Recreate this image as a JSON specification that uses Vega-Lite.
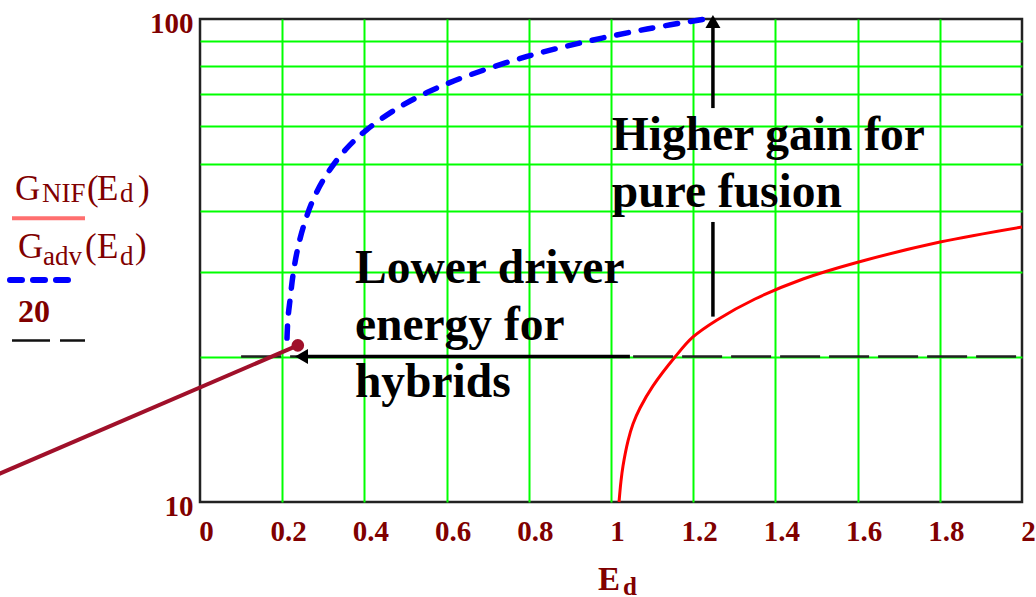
{
  "$schema": "https://vega.github.io/schema/vega-lite/v6.json",
  "width": 822,
  "height": 483,
  "autosize": {"type": "none"},
  "padding": {"left": 200, "top": 19, "right": 14, "bottom": 95},
  "background": "white",
  "config": {
    "view": {"stroke": "#222222", "strokeWidth": 2.5},
    "axis": {"domain": false, "ticks": false}
  },
  "datasets": {
    "nif": [
      {"x": 1.0195, "y": 10}, {"x": 1.0243, "y": 11.05}, {"x": 1.0292, "y": 11.87},
      {"x": 1.0414, "y": 13.38}, {"x": 1.0535, "y": 14.5}, {"x": 1.0706, "y": 15.65},
      {"x": 1.1022, "y": 17.39}, {"x": 1.1557, "y": 19.96}, {"x": 1.1995, "y": 21.96},
      {"x": 1.2579, "y": 23.82}, {"x": 1.3504, "y": 26.32}, {"x": 1.4672, "y": 28.95},
      {"x": 1.5937, "y": 31.25}, {"x": 1.8005, "y": 34.53}, {"x": 2, "y": 37.1}
    ],
    "adv": [
      {"x": 0.2117, "y": 21.85}, {"x": 0.2141, "y": 24.04}, {"x": 0.219, "y": 26.19},
      {"x": 0.2263, "y": 29.51}, {"x": 0.236, "y": 32.93}, {"x": 0.2506, "y": 36.93},
      {"x": 0.2749, "y": 42.19}, {"x": 0.309, "y": 47.77}, {"x": 0.3577, "y": 54.07},
      {"x": 0.4063, "y": 59.04}, {"x": 0.4793, "y": 65.27}, {"x": 0.5523, "y": 70.43},
      {"x": 0.6496, "y": 76.21}, {"x": 0.7956, "y": 83.66}, {"x": 0.9416, "y": 89.87},
      {"x": 1.0876, "y": 95.35}, {"x": 1.2287, "y": 100}
    ],
    "ref20": [{"x": 0.1, "x2": 2, "y": 20}],
    "arrowH": [{"x": 0.262, "x2": 1.046, "y": 20}],
    "arrowV": [{"x": 1.248, "y": 65.4, "y2": 96.5}, {"x": 1.248, "y": 24.2, "y2": 38.0}],
    "headUp": [{"x": 1.248, "y": 98.8}],
    "headLeft": [{"x": 0.247, "y": 20}],
    "pointer": [{"x": -0.535, "y": 11.0, "x2": 0.238, "y2": 21.1}],
    "dot": [{"x": 0.238, "y": 21.1}],
    "notes": [
      {"x": 1.002, "y": 53.6, "t": "Higher gain for"},
      {"x": 1.002, "y": 40.8, "t": "pure fusion"},
      {"x": 0.377, "y": 28.4, "t": "Lower driver"},
      {"x": 0.377, "y": 21.6, "t": "energy for"},
      {"x": 0.377, "y": 16.5, "t": "hybrids"}
    ],
    "legMain": [
      {"x": -0.4501, "y": 42.2, "t": "G"},
      {"x": -0.2749, "y": 42.2, "t": "("},
      {"x": -0.2506, "y": 42.2, "t": "E"},
      {"x": -0.1509, "y": 42.2, "t": ")"},
      {"x": -0.4428, "y": 32.0, "t": "G"},
      {"x": -0.2798, "y": 32.0, "t": "("},
      {"x": -0.2506, "y": 32.0, "t": "E"},
      {"x": -0.1582, "y": 32.0, "t": ")"}
    ],
    "legSub": [
      {"x": -0.3844, "y": 41.8, "t": "NIF"},
      {"x": -0.1946, "y": 41.8, "t": "d"},
      {"x": -0.382, "y": 30.95, "t": "adv"},
      {"x": -0.1946, "y": 30.95, "t": "d"}
    ],
    "legNum": [{"x": -0.4428, "y": 23.6, "t": "20"}],
    "legRed": [{"x": -0.4574, "x2": -0.2798, "y": 38.7}],
    "legBlue": [{"x": -0.4623, "x2": -0.2993, "y": 28.8}],
    "legBlack": [{"x": -0.4574, "x2": -0.2798, "y": 21.6}],
    "xTitleMain": [{"x": 0.9684, "y": 6.57, "t": "E"}],
    "xTitleSub": [{"x": 1.0292, "y": 6.42, "t": "d"}]
  },
  "encoding": {
    "x": {
      "field": "x",
      "type": "quantitative",
      "scale": {"type": "linear", "domain": [0, 2], "nice": false, "zero": false},
      "axis": {
        "values": [0, 0.2, 0.4, 0.6, 0.8, 1, 1.2, 1.4, 1.6, 1.8, 2],
        "format": "~g",
        "title": null,
        "grid": true,
        "gridColor": "#00FF00",
        "gridWidth": 2,
        "gridOpacity": {"condition": {"test": "datum.value === 0 || datum.value === 2", "value": 0}, "value": 1},
        "labelFont": "Liberation Serif",
        "labelFontWeight": "bold",
        "labelFontSize": 29,
        "labelColor": "#800000",
        "labelPadding": 15,
        "labelOffset": 6,
        "labelOverlap": false,
        "labelFlush": false,
        "labelBound": false
      }
    },
    "y": {
      "field": "y",
      "type": "quantitative",
      "scale": {"type": "log", "domain": [10, 100], "nice": false},
      "axis": {
        "values": [10, 20, 30, 40, 50, 60, 70, 80, 90, 100],
        "format": "~g",
        "title": null,
        "grid": true,
        "gridColor": "#00FF00",
        "gridWidth": 2,
        "gridOpacity": {"condition": {"test": "datum.value === 10 || datum.value === 100", "value": 0}, "value": 1},
        "labelExpr": "datum.value === 10 || datum.value === 100 ? datum.label : ''",
        "labelFont": "Liberation Serif",
        "labelFontWeight": "bold",
        "labelFontSize": 29,
        "labelColor": "#800000",
        "labelPadding": 7,
        "labelOffset": 4,
        "labelOverlap": false,
        "labelFlush": false,
        "labelBound": false
      }
    }
  },
  "layer": [
    {
      "data": {"name": "ref20"},
      "mark": {"type": "rule", "color": "#222222", "strokeWidth": 2.5, "strokeDash": [40, 9]},
      "encoding": {"x2": {"field": "x2"}}
    },
    {
      "data": {"name": "nif"},
      "mark": {"type": "line", "color": "#FF0000", "strokeWidth": 3, "interpolate": "catmull-rom"}
    },
    {
      "data": {"name": "adv"},
      "mark": {"type": "line", "color": "#0000FF", "strokeWidth": 5.5, "strokeDash": [12, 13], "strokeCap": "round", "interpolate": "catmull-rom"}
    },
    {
      "data": {"name": "arrowH"},
      "mark": {"type": "rule", "color": "black", "strokeWidth": 3.5},
      "encoding": {"x2": {"field": "x2"}}
    },
    {
      "data": {"name": "arrowV"},
      "mark": {"type": "rule", "color": "black", "strokeWidth": 3.5},
      "encoding": {"y2": {"field": "y2"}}
    },
    {
      "data": {"name": "headUp"},
      "mark": {"type": "point", "shape": "triangle-up", "filled": true, "color": "black", "opacity": 1, "size": 225, "strokeWidth": 0}
    },
    {
      "data": {"name": "headLeft"},
      "mark": {"type": "point", "shape": "triangle-left", "filled": true, "color": "black", "opacity": 1, "size": 225, "strokeWidth": 0}
    },
    {
      "data": {"name": "pointer"},
      "mark": {"type": "rule", "color": "#A0102A", "strokeWidth": 4},
      "encoding": {"x2": {"field": "x2"}, "y2": {"field": "y2"}}
    },
    {
      "data": {"name": "dot"},
      "mark": {"type": "point", "shape": "circle", "filled": true, "color": "#A0102A", "opacity": 1, "size": 160, "strokeWidth": 0}
    },
    {
      "data": {"name": "notes"},
      "mark": {"type": "text", "align": "left", "baseline": "alphabetic", "font": "Liberation Serif", "fontSize": 47.5, "fontWeight": "bold", "color": "black"},
      "encoding": {"text": {"field": "t"}}
    },
    {
      "data": {"name": "legMain"},
      "mark": {"type": "text", "align": "left", "baseline": "alphabetic", "font": "Liberation Serif", "fontSize": 35, "color": "#800000"},
      "encoding": {"text": {"field": "t"}}
    },
    {
      "data": {"name": "legSub"},
      "mark": {"type": "text", "align": "left", "baseline": "alphabetic", "font": "Liberation Serif", "fontSize": 27, "color": "#800000"},
      "encoding": {"text": {"field": "t"}}
    },
    {
      "data": {"name": "legNum"},
      "mark": {"type": "text", "align": "left", "baseline": "alphabetic", "font": "Liberation Serif", "fontSize": 32, "fontWeight": "bold", "color": "#800000"},
      "encoding": {"text": {"field": "t"}}
    },
    {
      "data": {"name": "legRed"},
      "mark": {"type": "rule", "color": "#FF6F6F", "strokeWidth": 4},
      "encoding": {"x2": {"field": "x2"}}
    },
    {
      "data": {"name": "legBlue"},
      "mark": {"type": "rule", "color": "#0000FF", "strokeWidth": 6, "strokeDash": [12, 11], "strokeCap": "round"},
      "encoding": {"x2": {"field": "x2"}}
    },
    {
      "data": {"name": "legBlack"},
      "mark": {"type": "rule", "color": "#111111", "strokeWidth": 2.5, "strokeDash": [38, 10]},
      "encoding": {"x2": {"field": "x2"}}
    },
    {
      "data": {"name": "xTitleMain"},
      "mark": {"type": "text", "align": "left", "baseline": "alphabetic", "font": "Liberation Serif", "fontSize": 33, "fontWeight": "bold", "color": "#800000"},
      "encoding": {"text": {"field": "t"}}
    },
    {
      "data": {"name": "xTitleSub"},
      "mark": {"type": "text", "align": "left", "baseline": "alphabetic", "font": "Liberation Serif", "fontSize": 25, "fontWeight": "bold", "color": "#800000"},
      "encoding": {"text": {"field": "t"}}
    }
  ]
}
